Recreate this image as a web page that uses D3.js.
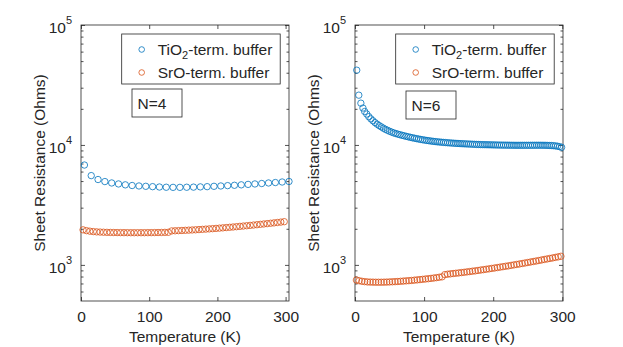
<!DOCTYPE html>
<html>
<head>
<meta charset="utf-8">
<script src="https://cdn.jsdelivr.net/npm/d3@7"></script>
<style>
  body { margin: 0; background: #fff; }
  text { font-family: "Liberation Sans", Arial, sans-serif; fill: #262626; }
</style>
</head>
<body>
<svg id="chart" width="623" height="347"></svg>
<script>
/* --- Data --- */
// N=4, TiO2-terminated buffer
const tempN4Ti = [5, 15, 25, 35, 45, 55, 65, 75, 85, 95, 105, 115, 125, 135, 145, 155, 165, 175, 185, 195,
    205, 215, 225, 235, 245, 255, 265, 275, 285, 295, 305];
const resN4Ti = [6800, 5550, 5150, 4950, 4820, 4730, 4650, 4590, 4550, 4520, 4490, 4460, 4440, 4430, 4430, 4440,
    4450, 4470, 4490, 4520, 4550, 4580, 4610, 4650, 4690, 4730, 4770, 4820, 4860, 4910, 4960];

// N=4, SrO-terminated buffer
const tempN4Sr = [3, 8, 13, 18, 23, 28, 33, 38, 43, 48, 53, 58, 63, 68, 73, 78, 83, 88, 93, 98,
    103, 108, 113, 118, 123, 128, 133, 138, 143, 148, 153, 158, 163, 168, 173, 178, 183, 188, 193, 198,
    203, 208, 213, 218, 223, 228, 233, 238, 243, 248, 253, 258, 263, 268, 273, 278, 283, 288, 293, 298];
const resN4Sr = [1960, 1930, 1910, 1895, 1885, 1878, 1872, 1868, 1865, 1862, 1860, 1858, 1857, 1856, 1855, 1855,
    1855, 1855, 1856, 1857, 1858, 1860, 1862, 1864, 1867, 1870, 1920, 1925, 1930, 1936, 1942, 1948, 1955, 1962,
    1970, 1978, 1987, 1996, 2005, 2015, 2025, 2036, 2047, 2058, 2070, 2082, 2095, 2108, 2121, 2135, 2149, 2163,
    2178, 2193, 2208, 2224, 2240, 2257, 2274, 2292];

// N=6, TiO2-terminated buffer
const tempN6Ti = [2.5, 5.5, 8.5, 11.5, 14, 17, 20, 23, 26, 29, 32, 35, 38, 41, 44, 47, 50, 53, 56, 59, 62, 65,
    68, 71, 74, 77, 80, 83, 86, 89, 92, 95, 98, 101, 104, 107, 110, 113, 116, 119, 122, 125, 128, 131, 134, 137,
    140, 143, 146, 149, 152, 155, 158, 161, 164, 167, 170, 173, 176, 179, 182, 185, 188, 191, 194, 197, 200, 203,
    206, 209, 212, 215, 218, 221, 224, 227, 230, 233, 236, 239, 242, 245, 248, 251, 254, 257, 260, 263, 266, 269,
    272, 275, 278, 281, 284, 287, 290, 293, 296, 299];
const resN6Ti = [42000, 26000, 22300, 20300, 19000, 18100, 17200, 16500, 15900, 15350, 14900, 14500, 14150, 13800,
    13500, 13250, 13000, 12800, 12600, 12450, 12300, 12170, 12040, 11920, 11800, 11690, 11580, 11480, 11380, 11290,
    11200, 11120, 11040, 10970, 10900, 10840, 10780, 10720, 10670, 10620, 10580, 10540, 10500, 10470, 10430, 10400,
    10370, 10340, 10310, 10290, 10260, 10240, 10220, 10200, 10180, 10160, 10140, 10120, 10100, 10090, 10070, 10060,
    10050, 10040, 10030, 10020, 10010, 10000, 9990, 9980, 9970, 9965, 9960, 9955, 9950, 9945, 9940, 9935, 9935,
    9935, 9935, 9935, 9935, 9935, 9935, 9940, 9940, 9945, 9945, 9945, 9940, 9935, 9920, 9900, 9890, 9860, 9820,
    9760, 9680, 9560];

// N=6, SrO-terminated buffer
const tempN6Sr = [2, 6, 10, 14, 18, 22, 26, 30, 34, 38, 42, 46, 50, 54, 58, 62, 66, 70, 74, 78, 82, 86, 90, 94,
    98, 102, 106, 110, 114, 118, 122, 126, 130, 134, 138, 142, 146, 150, 154, 158, 162, 166, 170, 174, 178, 182,
    186, 190, 194, 198, 202, 206, 210, 214, 218, 222, 226, 230, 234, 238, 242, 246, 250, 254, 258, 262, 266, 270,
    274, 278, 282, 286, 290, 294, 298];
const resN6Sr = [748, 738, 730, 725, 721, 719, 718, 717, 717, 717, 718, 719, 721, 723, 725, 727, 730, 733, 736,
    739, 742, 746, 750, 754, 758, 763, 767, 772, 777, 783, 789, 795, 830, 836, 842, 847, 852, 857, 863, 868, 874,
    880, 886, 892, 899, 906, 913, 920, 927, 935, 942, 950, 958, 966, 974, 982, 991, 1000, 1009, 1018, 1027, 1037,
    1047, 1057, 1067, 1077, 1088, 1099, 1110, 1121, 1132, 1143, 1155, 1167, 1180];

const xTicks = [0, 100, 200, 300];
const yMajor = [1e3, 1e4, 1e5];
const yMinor = [600, 700, 800, 900, 2000, 3000, 4000, 5000, 6000, 7000, 8000, 9000,
    20000, 30000, 40000, 50000, 60000, 70000, 80000, 90000];
const seriesNames = ["TiO2-term. buffer", "SrO-term. buffer"];

/* --- Style / layout --- */
const COLORS = { ti: '#0072BD', sr: '#D95319', axis: '#262626' };
const PLOT = { top: 25, bottom: 301 };
const FONT = 15.5;

const svg = d3.select("#chart");

const panels = [
    { left: 81, right: 289, xMax: 305, note: "N=4", noteY: 89,
      ti: [tempN4Ti, resN4Ti], sr: [tempN4Sr, resN4Sr] },
    { left: 355, right: 563, xMax: 301, note: "N=6", noteY: 91,
      ti: [tempN6Ti, resN6Ti], sr: [tempN6Sr, resN6Sr] }
];

function styleAxis(sel) {
    sel.select(".domain").remove();
    sel.selectAll("line").attr("stroke", COLORS.axis).attr("stroke-width", 0.8);
    sel.selectAll("text").style("font-size", FONT + "px")
        .style("font-family", '"Liberation Sans", Arial, sans-serif').attr("fill", COLORS.axis);
}

function drawPanel(p) {
    const x = d3.scaleLinear().domain([0, p.xMax]).range([p.left, p.right]);
    const y = d3.scaleLog().domain([500, 1e5]).range([PLOT.bottom, PLOT.top]);
    const g = svg.append("g");

    // x axis (bottom with labels, top mirrored)
    g.append("g").attr("transform", `translate(0,${PLOT.bottom})`)
        .call(d3.axisBottom(x).tickValues(xTicks).tickSize(-4).tickPadding(10).tickFormat(d3.format("d")))
        .call(styleAxis);
    g.append("g").attr("transform", `translate(0,${PLOT.top})`)
        .call(d3.axisTop(x).tickValues(xTicks).tickSize(-4).tickFormat(""))
        .call(styleAxis);

    // y axis, major + minor ticks on both sides
    [[d3.axisLeft, p.left], [d3.axisRight, p.right]].forEach(([ax, pos]) => {
        g.append("g").attr("transform", `translate(${pos},0)`)
            .call(ax(y).tickValues(yMajor).tickSize(-4).tickFormat(""))
            .call(styleAxis);
        g.append("g").attr("transform", `translate(${pos},0)`)
            .call(ax(y).tickValues(yMinor).tickSize(-2.5).tickFormat(""))
            .call(styleAxis);
    });

    // y tick labels as 10^n
    yMajor.forEach(v => {
        const t = g.append("text")
            .attr("x", p.left - 9).attr("y", y(v)).attr("dy", "0.52em")
            .attr("text-anchor", "end").style("font-size", FONT + "px");
        t.append("tspan").text("10");
        t.append("tspan").attr("dy", -9).style("font-size", "11px").text(Math.round(Math.log10(v)));
    });

    // box
    g.append("rect")
        .attr("x", p.left).attr("y", PLOT.top)
        .attr("width", p.right - p.left).attr("height", PLOT.bottom - PLOT.top)
        .attr("fill", "none").attr("stroke", COLORS.axis).attr("stroke-width", 0.8);

    // axis titles
    g.append("text")
        .attr("transform", `translate(${p.left - 41},${(PLOT.top + PLOT.bottom) / 2}) rotate(-90)`)
        .attr("text-anchor", "middle").attr("dy", "0.35em")
        .style("font-size", FONT + "px")
        .text("Sheet Resistance (Ohms)");
    g.append("text")
        .attr("x", (p.left + p.right) / 2).attr("y", 337).attr("dy", "0.35em")
        .attr("text-anchor", "middle").style("font-size", FONT + "px")
        .text("Temperature (K)");

    // data markers
    [[p.ti, COLORS.ti], [p.sr, COLORS.sr]].forEach(([[ts, rs], color]) => {
        g.append("g").selectAll("circle")
            .data(ts.map((t, i) => ({ t, r: rs[i] })))
            .join("circle")
            .attr("cx", d => x(d.t))
            .attr("cy", d => y(d.r))
            .attr("r", 3.2)
            .attr("fill", "none")
            .attr("stroke", color)
            .attr("stroke-width", 0.8);
    });

    // legend
    const lx = p.left + 40.7, ly = 34;
    const lg = g.append("g");
    lg.append("rect").attr("x", lx).attr("y", ly).attr("width", 158.5).attr("height", 50)
        .attr("fill", "#fff").attr("stroke", COLORS.axis).attr("stroke-width", 0.8);
    [COLORS.ti, COLORS.sr].forEach((c, i) => {
        const cy = ly + 15.5 + i * 23;
        lg.append("circle").attr("cx", lx + 20).attr("cy", cy).attr("r", 2.8)
            .attr("fill", "none").attr("stroke", c).attr("stroke-width", 0.8);
        const t = lg.append("text").attr("x", lx + 36).attr("y", cy).attr("dy", "0.35em")
            .style("font-size", FONT + "px");
        if (i === 0) {
            t.append("tspan").text("TiO");
            t.append("tspan").attr("dy", 4).style("font-size", "11px").text("2");
            t.append("tspan").attr("dy", -4).text(seriesNames[0].slice(4));
        } else {
            t.text(seriesNames[1]);
        }
    });

    // N annotation
    g.append("rect").attr("x", p.left + 51).attr("y", p.noteY).attr("width", 50).attr("height", 28)
        .attr("fill", "#fff").attr("stroke", COLORS.axis).attr("stroke-width", 0.8);
    g.append("text").attr("x", p.left + 56.5).attr("y", p.noteY + 14.5).attr("dy", "0.35em")
        .style("font-size", FONT + "px").text(p.note);
}

panels.forEach(drawPanel);
</script>
</body>
</html>
